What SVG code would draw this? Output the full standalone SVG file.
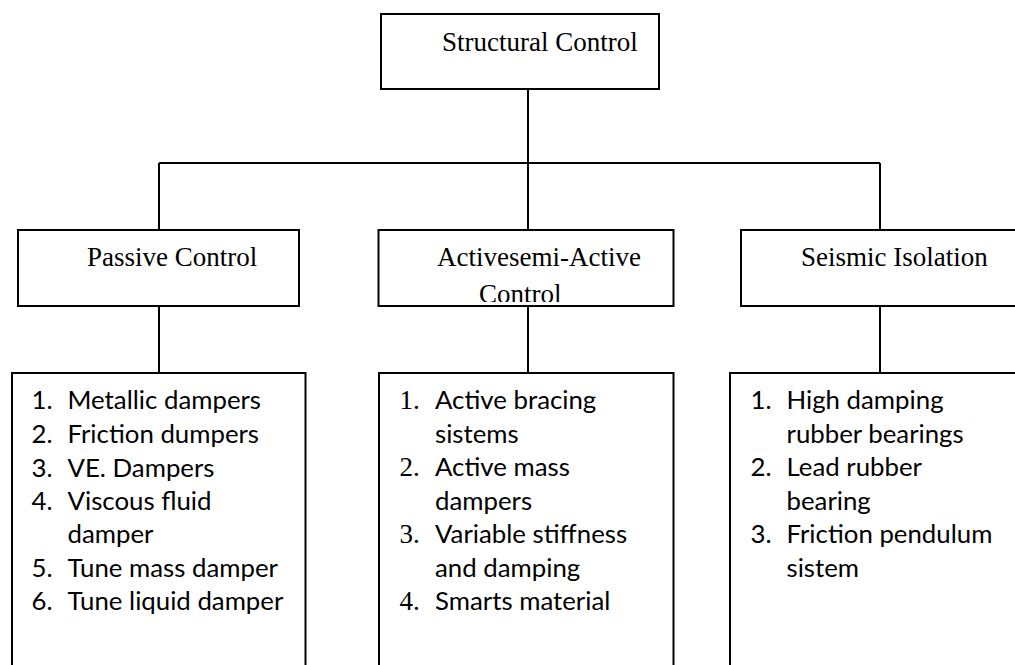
<svg xmlns="http://www.w3.org/2000/svg" width="1015" height="665" viewBox="0 0 1015 665">
<style>
.box{fill:#fff;stroke:#000;stroke-width:2}
.ln{fill:none;stroke:#000;stroke-width:2}
.h{font-family:"Liberation Serif","Times New Roman",serif;font-size:27px;fill:#000}
.l{font-family:Lato,"Liberation Sans",sans-serif;font-size:25.8px;fill:#000}
.n{font-family:"Liberation Serif","Times New Roman",serif;font-size:27px;fill:#000}
</style>
<defs>
<clipPath id="clipActive"><rect x="379" y="231" width="294" height="71"/></clipPath>
</defs>
<rect width="1015" height="665" fill="#fff"/>
<g id="connectors">
<path class="ln" d="M528,89 V163 M159,163 H880 M159,163 V230 M528,163 V230 M880,163 V230 M159,306 V373 M528,306 V373 M880,306 V373"/>
</g>
<g id="structural-control">
<rect class="box" x="381" y="14" width="278" height="75"/>
<text class="h" x="442" y="50.5">Structural Control</text>
</g>
<g id="passive-control">
<rect class="box" x="18" y="230" width="281" height="76"/>
<text class="h" x="87" y="266">Passive Control</text>
</g>
<g id="active-control">
<rect class="box" x="378.5" y="230" width="295" height="76"/>
<g clip-path="url(#clipActive)">
<text class="h" x="437" y="266">Activesemi-Active</text>
<text class="h" x="479" y="303">Control</text>
</g>
</g>
<g id="seismic-isolation">
<rect class="box" x="741" y="230" width="300" height="76"/>
<text class="h" x="801" y="266">Seismic Isolation</text>
</g>
<g id="passive-list">
<rect class="box" x="12" y="373" width="293.5" height="320"/>
<text class="l" x="31.5" y="409">1.</text><text class="l" x="67.5" y="409">Metallic dampers</text>
<text class="l" x="31.5" y="443">2.</text><text class="l" x="67.5" y="443">Friction dumpers</text>
<text class="l" x="31.5" y="476.5">3.</text><text class="l" x="67.5" y="476.5">VE. Dampers</text>
<text class="l" x="31.5" y="510">4.</text><text class="l" x="67.5" y="510">Viscous fluid</text>
<text class="l" x="67.5" y="543">damper</text>
<text class="l" x="31.5" y="576.5">5.</text><text class="l" x="67.5" y="576.5">Tune mass damper</text>
<text class="l" x="31.5" y="610">6.</text><text class="l" x="67.5" y="610">Tune liquid damper</text>
</g>
<g id="active-list">
<rect class="box" x="379" y="373" width="294.5" height="320"/>
<text class="n" x="399.5" y="409">1.</text><text class="l" x="435" y="409">Active bracing</text>
<text class="l" x="435" y="442.7">sistems</text>
<text class="n" x="399.5" y="476">2.</text><text class="l" x="435" y="476">Active mass</text>
<text class="l" x="435" y="509.7">dampers</text>
<text class="n" x="399.5" y="543">3.</text><text class="l" x="435" y="543">Variable stiffness</text>
<text class="l" x="435" y="576.7">and damping</text>
<text class="n" x="399.5" y="610">4.</text><text class="l" x="435" y="610">Smarts material</text>
</g>
<g id="seismic-list">
<rect class="box" x="730" y="373" width="310" height="320"/>
<text class="l" x="750.5" y="409">1.</text><text class="l" x="786.5" y="409">High damping</text>
<text class="l" x="786.5" y="443">rubber bearings</text>
<text class="l" x="750.5" y="476">2.</text><text class="l" x="786.5" y="476">Lead rubber</text>
<text class="l" x="786.5" y="510">bearing</text>
<text class="l" x="750.5" y="543">3.</text><text class="l" x="786.5" y="543">Friction pendulum</text>
<text class="l" x="786.5" y="576.5">sistem</text>
</g>
</svg>
